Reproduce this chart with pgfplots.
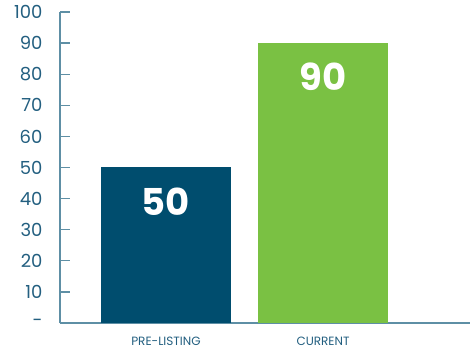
\documentclass[border=0pt]{standalone}
\usepackage{pgfplots}
\pgfplotsset{compat=1.18}
\usepackage{fontspec}
\setmainfont{Poppins}
\definecolor{darkb}{HTML}{004D6E}
\definecolor{grn}{HTML}{7AC143}
\definecolor{axc}{HTML}{5E8FA5}
\definecolor{tickc}{HTML}{235F80}
\begin{document}
\begin{tikzpicture}[x=1pt,y=1pt]
\useasboundingbox (0,0) rectangle (470,353);
\begin{axis}[
  at={(60pt,30pt)}, anchor=south west,
  scale only axis, width=410pt, height=311pt,
  xmin=-0.675, xmax=1.936, ymin=0, ymax=100,
  axis lines=left, axis line style={axc, line width=1.2pt, -},
  ytick={0,10,...,100},
  yticklabels={-,10,20,30,40,50,60,70,80,90,100},
  yticklabel style={font=\fontsize{18}{18}\selectfont, text=tickc, xshift=-14pt},
  /pgf/number format/assume math mode=true,
  tick align=inside, major tick length=10pt,
  ytick style={axc, line width=1.2pt},
  xtick={0,1}, xticklabels={PRE-LISTING,CURRENT},
  xtick style={draw=none},
  xticklabel style={font=\fontsize{12}{12}\selectfont, text=tickc, yshift=-2pt, inner sep=2pt},
  ybar, bar width=130pt,
  nodes near coords,
  every node near coord/.style={anchor=center, yshift=-34pt, text=white, font=\fontsize{37}{37}\selectfont\bfseries},
  clip=false,
]
\addplot[fill=darkb, draw=none, bar shift=0pt] coordinates {(0,50)};
\addplot[fill=grn, draw=none, bar shift=0pt] coordinates {(1,90)};
\end{axis}
\end{tikzpicture}
\end{document}
